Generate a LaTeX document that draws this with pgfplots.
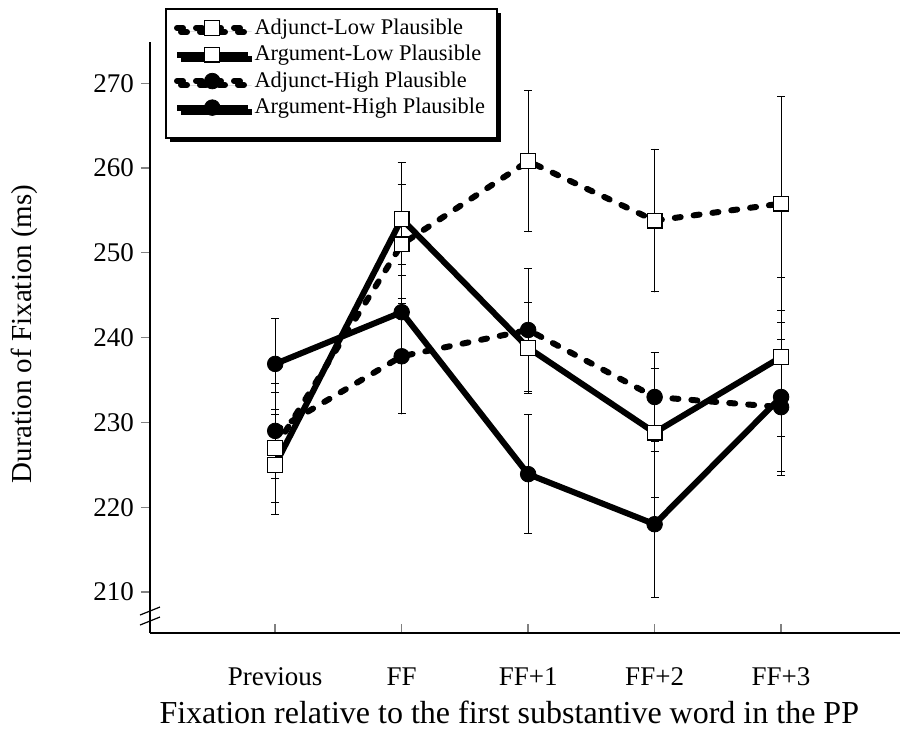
\documentclass[border=0pt]{standalone}
\usepackage{fontspec}
\setmainfont{Liberation Serif}
\usepackage{pgfplots}
\usepackage{pgfplotstable}
\pgfplotsset{compat=1.18}
\usetikzlibrary{shadows}

% x: 1=Previous, 2=FF, 3=FF+1, 4=FF+2, 5=FF+3
\pgfplotstableread{
x y e
1 227.0 6.5
2 251.0 7.0
3 260.8 8.3
4 253.8 8.4
5 255.8 12.6
}\adjlow
\pgfplotstableread{
x y e
1 225.0 5.9
2 254.0 6.7
3 238.8 5.4
4 228.8 7.6
5 237.7 9.4
}\arglow
\pgfplotstableread{
x y e
1 229.0 5.6
2 237.8 6.8
3 240.9 7.2
4 233.0 5.2
5 231.8 8.0
}\adjhigh
\pgfplotstableread{
x y e
1 236.9 5.4
2 243.0 5.6
3 223.9 7.0
4 218.0 8.6
5 233.0 8.8
}\arghigh

\begin{document}
\begin{tikzpicture}
\begin{axis}[
    scale only axis,
    width=375pt, height=295.5pt,
    xmin=0.01, xmax=5.94,
    ymin=205.17, ymax=274.86,
    axis x line=bottom, axis y line=left,
    axis line style={-, line width=0.8pt},
    xtick={1,2,3,4,5},
    xticklabels={Previous,FF,FF+1,FF+2,FF+3},
    ytick={210,220,230,240,250,260,270},
    tick align=outside,
    major tick length=4.5pt,
    x tick style={line width=0.8pt, yshift=4.5pt},
    y tick style={line width=0.6pt},
    /pgf/number format/assume math mode=true,
    xticklabel style={font=\fontsize{13.5}{16}\selectfont, anchor=base, yshift=-22pt},
    yticklabel style={font=\fontsize{13.5}{16}\selectfont},
    xlabel={Fixation relative to the first substantive word in the PP},
    ylabel={Duration of Fixation (ms)},
    xlabel style={font=\fontsize{16}{19}\selectfont, at={(axis description cs:0.479,-0.135)}, anchor=center},
    ylabel style={font=\fontsize{14.5}{17}\selectfont, at={(axis description cs:-0.168,0.506)}, anchor=center, rotate=0},
    clip=false,
    legend cell align=left,
    legend style={
        at={(axis description cs:0.02,1.058)}, anchor=north west,
        draw=black, line width=1pt, fill=white,
        drop shadow={shadow xshift=2pt, shadow yshift=-2pt, fill=black, opacity=1},
        font=\fontsize{11.2}{13}\selectfont,
        row sep=0pt, inner xsep=4pt, inner ysep=3pt,
    },
    legend image code/.code={
        \draw[mark repeat=2, mark phase=2, #1] plot coordinates {(0cm,0cm) (0.62cm,0cm) (1.24cm,0cm)};
    },
    every axis plot/.append style={black, line width=3pt},
    error bars/y dir=both,
    error bars/y explicit,
    error bars/error bar style={solid, line width=0.5pt},
    error bars/error mark options={solid, line width=0.5pt, mark size=2pt, rotate=90},
]
\addplot[dash pattern=on 3pt off 6.5pt, line cap=round,
    mark=square*, mark size=3.7pt, mark options={solid, fill=white, line width=0.6pt}]
    table[x=x, y=y, y error=e] {\adjlow};
\addlegendentry{Adjunct-Low Plausible}
\addplot[solid,
    mark=square*, mark size=3.7pt, mark options={solid, fill=white, line width=0.6pt}]
    table[x=x, y=y, y error=e] {\arglow};
\addlegendentry{Argument-Low Plausible}
\addplot[dash pattern=on 3pt off 6.5pt, line cap=round,
    mark=*, mark size=3.9pt, mark options={solid, fill=black, line width=0.4pt}]
    table[x=x, y=y, y error=e] {\adjhigh};
\addlegendentry{Adjunct-High Plausible}
\addplot[solid,
    mark=*, mark size=3.9pt, mark options={solid, fill=black, line width=0.4pt}]
    table[x=x, y=y, y error=e] {\arghigh};
\addlegendentry{Argument-High Plausible}
\addlegendimage{empty legend}
\addlegendentry[font=\fontsize{4}{4}\selectfont]{}
% axis break mark
\draw[line width=0.6pt] (rel axis cs:0,0.0372) ++(-5pt,-2pt) -- ++(10pt,4pt);
\draw[line width=0.6pt] (rel axis cs:0,0.0203) ++(-5pt,-2pt) -- ++(10pt,4pt);
\end{axis}
\path (-75pt,-51pt) rectangle (376pt,316.5pt);
\end{tikzpicture}
\end{document}
